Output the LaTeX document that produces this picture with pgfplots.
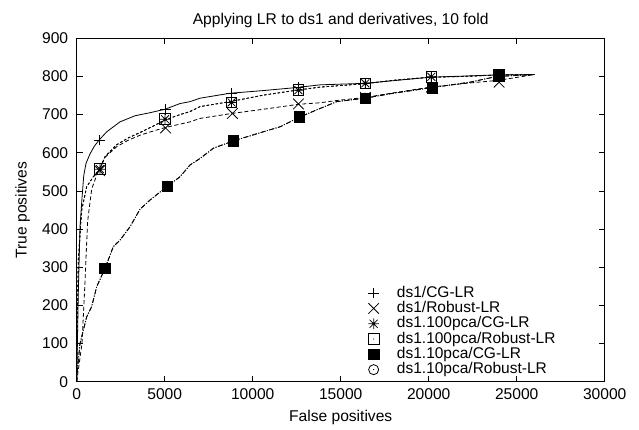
\documentclass[border=0pt]{standalone}
\usepackage{fontspec}
\setmainfont{Liberation Sans}
\usepackage{pgfplots}
\usepackage{pgfplotstable}
\pgfplotsset{compat=1.18}

\pgfdeclareplotmark{gplus}{%
  \pgfpathmoveto{\pgfqpoint{-\pgfplotmarksize}{0pt}}\pgfpathlineto{\pgfqpoint{\pgfplotmarksize}{0pt}}%
  \pgfpathmoveto{\pgfqpoint{0pt}{-\pgfplotmarksize}}\pgfpathlineto{\pgfqpoint{0pt}{\pgfplotmarksize}}%
  \pgfusepathqstroke}
\pgfdeclareplotmark{gcross}{%
  \pgfpathmoveto{\pgfqpoint{-\pgfplotmarksize}{-\pgfplotmarksize}}\pgfpathlineto{\pgfqpoint{\pgfplotmarksize}{\pgfplotmarksize}}%
  \pgfpathmoveto{\pgfqpoint{-\pgfplotmarksize}{\pgfplotmarksize}}\pgfpathlineto{\pgfqpoint{\pgfplotmarksize}{-\pgfplotmarksize}}%
  \pgfusepathqstroke}
\pgfdeclareplotmark{gstar}{%
  \pgfpathmoveto{\pgfqpoint{-\pgfplotmarksize}{0pt}}\pgfpathlineto{\pgfqpoint{\pgfplotmarksize}{0pt}}%
  \pgfpathmoveto{\pgfqpoint{0pt}{-\pgfplotmarksize}}\pgfpathlineto{\pgfqpoint{0pt}{\pgfplotmarksize}}%
  \pgfpathmoveto{\pgfqpoint{-0.75\pgfplotmarksize}{-0.75\pgfplotmarksize}}\pgfpathlineto{\pgfqpoint{0.75\pgfplotmarksize}{0.75\pgfplotmarksize}}%
  \pgfpathmoveto{\pgfqpoint{-0.75\pgfplotmarksize}{0.75\pgfplotmarksize}}\pgfpathlineto{\pgfqpoint{0.75\pgfplotmarksize}{-0.75\pgfplotmarksize}}%
  \pgfusepathqstroke}
\pgfdeclareplotmark{sqdot}{%
  \pgfpathrectangle{\pgfqpoint{-\pgfplotmarksize}{-\pgfplotmarksize}}{\pgfqpoint{2\pgfplotmarksize}{2\pgfplotmarksize}}%
  \pgfusepathqstroke
  \pgfpathcircle{\pgfpointorigin}{0.6pt}\pgfusepathqfill}
\pgfdeclareplotmark{fsq}{%
  \pgfpathrectangle{\pgfqpoint{-\pgfplotmarksize}{-\pgfplotmarksize}}{\pgfqpoint{2\pgfplotmarksize}{2\pgfplotmarksize}}%
  \pgfusepathqfillstroke}
\pgfdeclareplotmark{circdot}{%
  \pgfpathcircle{\pgfpointorigin}{0.95\pgfplotmarksize}\pgfusepathqstroke
  \pgfpathcircle{\pgfpointorigin}{0.6pt}\pgfusepathqfill}

\pgfplotstableread{
x y
0 0
40 100
91 232
188 406
300 480
400 540
528 572
756 597
1000 617
1267 633
1705 655
2460 681
3313 697
4165 705
5017 714
5869 729
6438 734
7006 743
8710 756
10602 763
12500 771
13824 778
16381 782
18000 789
20074 798
22000 801
23864 804
26000 805
}\cgline

\pgfplotstableread{
x y
0 0
120 40
300 100
450 240
620 420
852 505
1230 553
1608 588
2273 616
2932 633
3597 646
4352 657
5017 666
5869 675
6438 681
7006 690
8805 703
10602 714
12593 727
13824 731
14773 737
16381 745
17989 757
20074 772
22347 783
24000 790
26000 805
}\robline

\pgfplotstableread{
x y
0 0
30 150
91 319
284 450
568 511
943 537
1324 557
1608 590
2273 621
2932 639
3597 653
4352 670
5017 686
5869 700
6438 708
7006 721
8710 734
10602 751
12500 764
13824 772
16381 781
18000 790
20074 798
22000 800
24000 804
26000 805
}\pcaline

\pgfplotstableread{
x y
0 0
60 40
188 100
568 170
852 197
1136 249
1608 297
2080 354
2460 371
3028 406
3597 452
4165 476
5114 511
5869 537
6438 568
7006 585
7767 612
8900 631
10602 655
11551 668
12687 694
13824 716
14773 734
16381 743
17989 756
20074 770
22347 785
23864 800
26000 805
}\tenline

\pgfplotstableread{
x y
1300 633
5050 714
8800 755
12600 771
16400 782
20150 798
24000 805
}\cgmarks

\pgfplotstableread{
x y
1300 553
5050 665
8850 703
12600 728
16400 745
20150 772
24000 785
}\robmarks

\pgfplotstableread{
x y
1320 557
5020 688
8800 732
12600 764
16400 782
20150 799
24000 804
}\pcamarks

\pgfplotstableread{
x y
1600 297
5150 512
8900 631
12650 694
16400 743
20200 770
24000 802
}\tenmarks

\begin{document}
\begin{tikzpicture}[font=\fontsize{15.6}{18}\selectfont]
\useasboundingbox (-76.7pt,-48.3pt) rectangle (562.3pt,381.7pt);
\begin{axis}[
  scale only axis,
  width=528pt, height=343.4pt,
  xmin=0, xmax=30000, ymin=0, ymax=900,
  xtick={0,5000,...,30000}, ytick={0,100,...,900},
  scaled ticks=false,
  /pgf/number format/assume math mode=true,
  /pgf/number format/1000 sep={},
  tick label style={font=\fontsize{15.6}{18}\selectfont},
  xticklabel style={yshift=-3.5pt},
  yticklabel style={xshift=-5pt},
  tick align=inside, xtick pos=both, ytick pos=both,
  major tick length=6pt,
  axis line style={line width=0.8pt},
  every tick/.style={black, line width=0.8pt},
  title={Applying LR to ds1 and derivatives, 10 fold},
  title style={at={(axis description cs:0.5,1.024)}, anchor=base, font=\fontsize{15.6}{18}\selectfont},
  xlabel={False positives},
  xlabel style={at={(axis description cs:0.5,-0.116)}, anchor=base, font=\fontsize{15.6}{18}\selectfont},
  ylabel={True positives},
  ylabel style={at={(axis description cs:-0.0947,0.5)}, anchor=base, font=\fontsize{15.6}{18}\selectfont},
  legend style={draw=none, fill=none, inner sep=0pt, at={(axis description cs:0.552,0.28)}, anchor=north west,
    font=\fontsize{15.5}{17}\selectfont,
    nodes={inner sep=0pt, text height=11.5pt, text depth=3.3pt},
    row sep=0.5pt, column sep=18pt},
  legend cell align=left,
  every axis plot/.append style={black, line width=0.8pt},
]
\addplot[forget plot, mark=none] table {\cgline};
\addplot[forget plot, mark=none, dash pattern=on 4pt off 2.5pt] table {\robline};
\addplot[forget plot, mark=none, dash pattern=on 2.5pt off 2pt] table {\pcaline};
\addplot[forget plot, mark=none, dash pattern=on 2.5pt off 2pt] table {\pcaline};
\addplot[forget plot, mark=none, dash pattern=on 5pt off 1.5pt on 1pt off 1.5pt] table {\tenline};
\addplot[forget plot, mark=none, dash pattern=on 5pt off 1.5pt on 1pt off 1.5pt] table {\tenline};

\addplot[only marks, mark=gplus, mark size=5.3pt] table {\cgmarks};
\addlegendentry{ds1/CG-LR}
\addplot[only marks, mark=gcross, mark size=5.3pt] table {\robmarks};
\addlegendentry{ds1/Robust-LR}
\addplot[only marks, mark=gstar, mark size=5.3pt] table {\pcamarks};
\addlegendentry{ds1.100pca/CG-LR}
\addplot[only marks, mark=sqdot, mark size=5.3pt] table {\pcamarks};
\addlegendentry{ds1.100pca/Robust-LR}
\addplot[only marks, mark=fsq, mark size=5.3pt, fill=black] table {\tenmarks};
\addlegendentry{ds1.10pca/CG-LR}
\addplot[only marks, mark=circdot, mark size=5.3pt] table {\tenmarks};
\addlegendentry{ds1.10pca/Robust-LR}
\end{axis}
\end{tikzpicture}
\end{document}
